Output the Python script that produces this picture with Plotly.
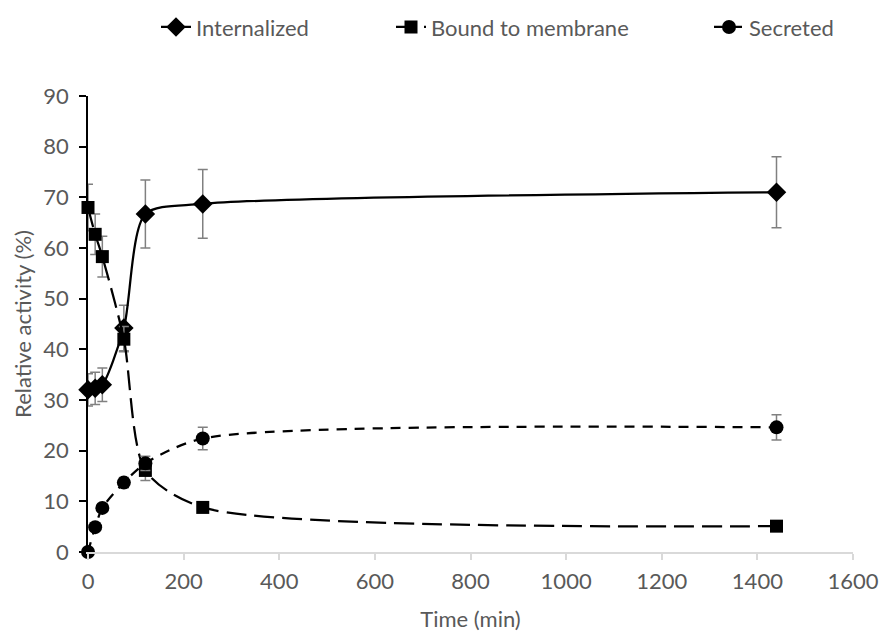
import plotly.graph_objects as go

time_min = [0, 15, 30, 75, 120, 240, 1440]
internalized = [32.0, 32.3, 33.0, 44.2, 66.7, 68.7, 71.0]
internalized_err = [3.2, 3.2, 3.3, 4.5, 6.7, 6.8, 7.0]
bound = [68.0, 62.7, 58.3, 42.0, 16.1, 8.8, 5.1]
bound_err = [4.6, 4.0, 4.0, 2.5, 2.0, 0.8, 0.7]
secreted = [0.0, 4.9, 8.7, 13.7, 17.5, 22.4, 24.6]
secreted_err = [0.3, 0.5, 0.6, 1.0, 1.4, 2.2, 2.5]

x_ticks = [0, 200, 400, 600, 800, 1000, 1200, 1400, 1600]
y_ticks = [0, 10, 20, 30, 40, 50, 60, 70, 80, 90]

FONT = "Lato"
GREY_TXT = "#595959"
ERR_COL = "#808080"
FS = 22
SMOOTH = 0.75

def err(vals):
    return dict(type="data", array=vals, visible=True, color=ERR_COL, thickness=1.5, width=5)

fig = go.Figure()
fig.add_trace(go.Scatter(
    x=time_min, y=internalized, name="Internalized", mode="lines+markers",
    line=dict(color="black", width=2.25, shape="spline", smoothing=SMOOTH),
    marker=dict(symbol="diamond", size=15, color="black"),
    error_y=err(internalized_err), cliponaxis=False, legend="legend"))
fig.add_trace(go.Scatter(
    x=time_min, y=bound, name="Bound to membrane", mode="lines+markers",
    line=dict(color="black", width=2.25, shape="spline", smoothing=SMOOTH, dash="20px,8px"),
    marker=dict(symbol="square", size=13, color="black"),
    error_y=err(bound_err), cliponaxis=False, legend="legend2"))
fig.add_trace(go.Scatter(
    x=time_min, y=secreted, name="Secreted", mode="lines+markers",
    line=dict(color="black", width=2.25, shape="spline", smoothing=SMOOTH, dash="10px,8px"),
    marker=dict(symbol="circle", size=14, color="black"),
    error_y=err(secreted_err), cliponaxis=False, legend="legend3"))

def leg(xpx):
    return dict(orientation="h", x=(xpx - 88) / 765, xanchor="right", y=1.151, yanchor="middle",
                font=dict(family=FONT, size=FS, color=GREY_TXT), bgcolor="rgba(0,0,0,0)")

fig.update_layout(
    width=882, height=634,
    margin=dict(l=88, r=29, t=96, b=82, autoexpand=False),
    paper_bgcolor="white", plot_bgcolor="white",
    font=dict(family=FONT, size=FS, color=GREY_TXT),
    showlegend=True,
    legend=leg(314), legend2=leg(634), legend3=leg(839),
    xaxis=dict(range=[0, 1600], tickvals=x_ticks, ticktext=[str(v) for v in x_ticks],
               showline=True, linecolor="#d9d9d9", linewidth=1.5, ticks="outside",
               tickcolor="#d9d9d9", ticklen=6, tickwidth=1.5, showgrid=False, zeroline=False,
               automargin=False, ticklabelstandoff=3,
               title=dict(text="Time (min)", font=dict(size=FS, color=GREY_TXT), standoff=18),
               tickfont=dict(size=FS, color=GREY_TXT)),
    yaxis=dict(range=[0, 90], tickvals=y_ticks, ticktext=[str(v) for v in y_ticks],
               showline=True, linecolor="black", linewidth=1.5, ticks="outside",
               tickcolor="black", ticklen=7, tickwidth=1.5, showgrid=False, zeroline=False,
               automargin=False, ticklabelstandoff=6,
               title=dict(text="Relative activity (%)", font=dict(size=FS, color=GREY_TXT), standoff=6),
               tickfont=dict(size=FS, color=GREY_TXT)),
)

fig.write_html("out.html")
